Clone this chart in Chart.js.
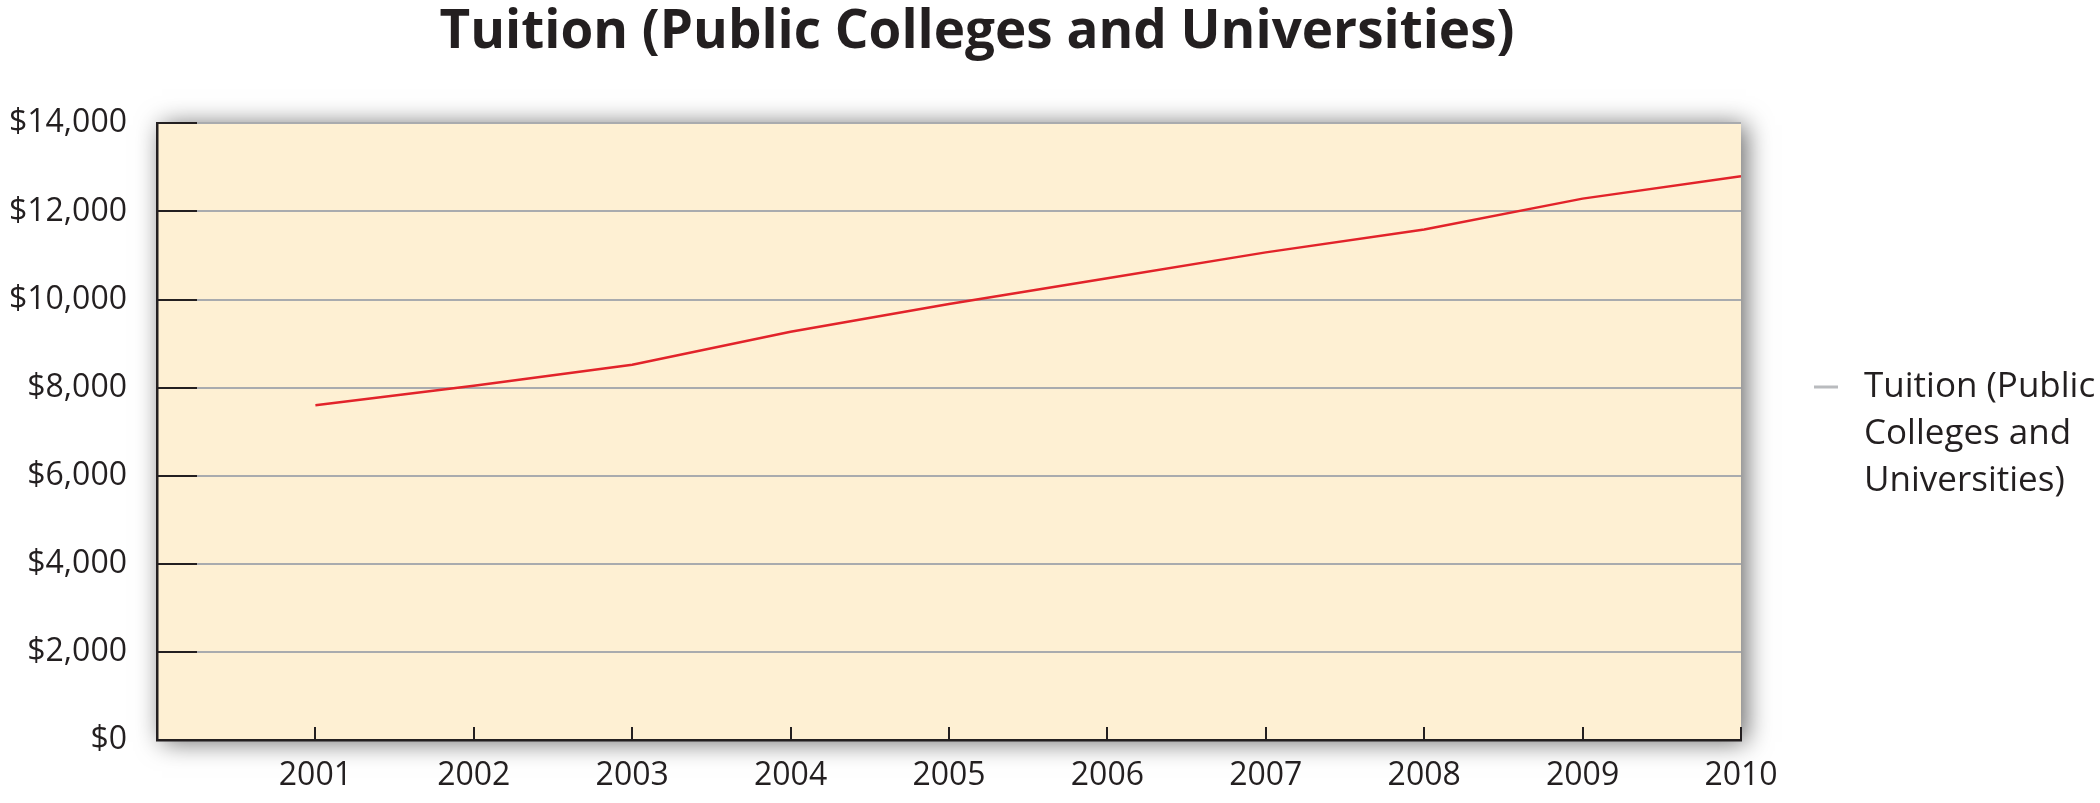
<!DOCTYPE html>
<html>
<head>
<meta charset="utf-8">
<title>Tuition (Public Colleges and Universities)</title>
<script src="https://cdn.jsdelivr.net/npm/chart.js@4/dist/chart.umd.min.js"></script>
<style>
  html, body { margin: 0; padding: 0; background: #ffffff; }
  #chartBox { width: 2100px; height: 803px; }
</style>
</head>
<body>
<div id="chartBox"><canvas id="tuitionChart" width="2100" height="803"></canvas></div>
<script>
"use strict";

let chartTitle = "Tuition (Public Colleges and Universities)";
let seriesName = ["Tuition (Public", "Colleges and", "Universities)"];

let years = [2001, 2002, 2003, 2004, 2005, 2006, 2007, 2008, 2009, 2010];
let tuitionValues = [7600, 8040, 8520, 9270, 9900, 10480, 11070, 11590, 12290, 12800];

let yTickValues = [0, 2000, 4000, 6000, 8000, 10000, 12000, 14000];

let textColor = "#231f20";
let labelFont = "'Open Sans', 'Liberation Sans', sans-serif";

let points = [];
for (let i = 0; i < years.length; i++) {
  points.push({ x: years[i], y: tuitionValues[i] });
}

// cream plot area with a soft drop shadow
let plotBackground = {
  id: "plotBackground",
  beforeDraw(chart) {
    let ctx = chart.ctx;
    let a = chart.chartArea;
    ctx.save();
    ctx.shadowColor = "rgba(0, 0, 0, 0.6)";
    ctx.shadowBlur = 24;
    ctx.shadowOffsetX = 5;
    ctx.shadowOffsetY = 2;
    ctx.fillStyle = "#fef0d3";
    ctx.fillRect(a.left, a.top, a.right - a.left, a.bottom - a.top);
    ctx.restore();
  },
};

// short tick marks drawn inside the plot area
let innerTicks = {
  id: "innerTicks",
  beforeDatasetsDraw(chart) {
    let ctx = chart.ctx;
    let a = chart.chartArea;
    let xScale = chart.scales.x;
    let yScale = chart.scales.y;
    ctx.save();
    ctx.strokeStyle = textColor;
    ctx.lineWidth = 2;
    ctx.beginPath();
    yScale.ticks.forEach((t) => {
      let py = Math.round(yScale.getPixelForValue(t.value));
      ctx.moveTo(a.left, py);
      ctx.lineTo(a.left + 40, py);
    });
    xScale.ticks.forEach((t) => {
      if (t.value <= 2000) return;
      let px = Math.round(xScale.getPixelForValue(t.value));
      ctx.moveTo(px, a.bottom);
      ctx.lineTo(px, a.bottom - 13);
    });
    ctx.stroke();
    ctx.restore();
  },
};

// legend on the right, text wrapped on three lines
let sideLegend = {
  id: "sideLegend",
  afterDraw(chart) {
    let ctx = chart.ctx;
    let a = chart.chartArea;
    let lineY = 387;
    ctx.save();
    ctx.strokeStyle = "#b9bbbe";
    ctx.lineWidth = 3;
    ctx.beginPath();
    ctx.moveTo(a.right + 73, lineY);
    ctx.lineTo(a.right + 97, lineY);
    ctx.stroke();
    ctx.fillStyle = textColor;
    ctx.font = "35px " + labelFont;
    ctx.textAlign = "left";
    ctx.textBaseline = "middle";
    for (let i = 0; i < seriesName.length; i++) {
      ctx.fillText(seriesName[i], a.right + 123, lineY + i * 47);
    }
    ctx.restore();
  },
};

let ctx = document.getElementById("tuitionChart").getContext("2d");
let tuitionChart = new Chart(ctx, {
  type: "line",
  data: {
    datasets: [
      {
        label: seriesName.join(" "),
        data: points,
        borderColor: "#e2232a",
        borderWidth: 2.5,
        pointRadius: 0,
        tension: 0,
        fill: false,
      },
    ],
  },
  options: {
    responsive: false,
    animation: false,
    devicePixelRatio: 1,
    layout: {
      padding: { left: 0, right: 146, top: 0, bottom: 0 },
    },
    plugins: {
      legend: { display: false },
      tooltip: { enabled: false },
      title: {
        display: true,
        text: chartTitle,
        color: textColor,
        font: { family: "'Open Sans', sans-serif", size: 53, weight: "bold", lineHeight: 1.1 },
        padding: { top: 4, bottom: 61 },
      },
    },
    scales: {
      x: {
        type: "linear",
        min: 2000,
        max: 2010,
        grid: { display: false, drawTicks: false },
        border: { display: true, color: textColor, width: 2.5 },
        ticks: {
          stepSize: 1,
          autoSkip: false,
          maxRotation: 0,
          padding: 17,
          color: textColor,
          font: { family: labelFont, size: 32 },
          callback: (v) => (v === 2000 ? "" : String(v)),
        },
        afterFit: (s) => {
          s.height = 63;
        },
      },
      y: {
        min: 0,
        max: 14000,
        afterBuildTicks: (s) => {
          s.ticks = yTickValues.map((v) => ({ value: v }));
        },
        grid: { color: "#a9abae", lineWidth: 2, drawTicks: false },
        border: { display: true, color: textColor, width: 2.5 },
        ticks: {
          padding: 30,
          color: textColor,
          font: { family: labelFont, size: 32 },
          callback: (v) => "$" + v.toLocaleString("en-US"),
        },
        afterFit: (s) => {
          s.width = 157;
        },
      },
      spacer: {
        position: "right",
        display: true,
        grid: { display: false, drawTicks: false },
        border: { display: false },
        ticks: { display: false },
        afterFit: (s) => {
          s.width = 213;
        },
      },
    },
  },
  plugins: [plotBackground, innerTicks, sideLegend],
});
</script>
</body>
</html>
